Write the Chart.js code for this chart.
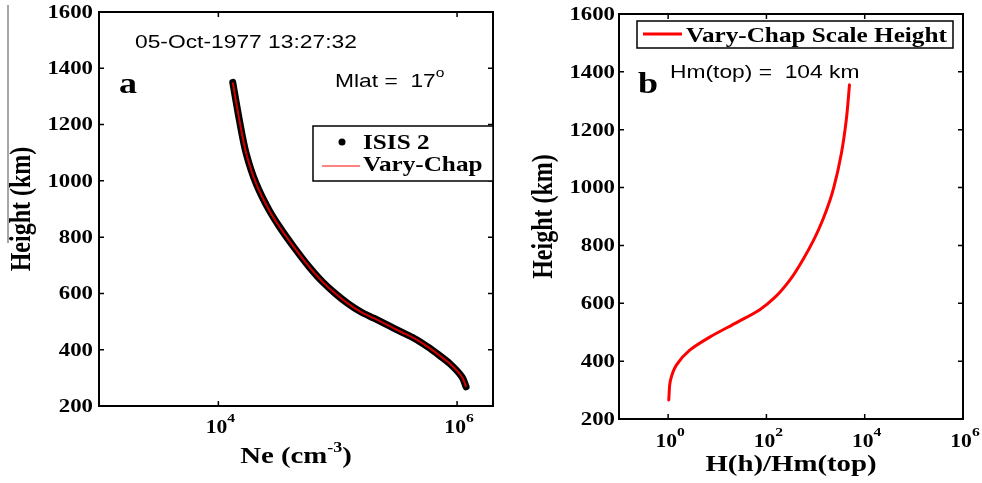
<!DOCTYPE html>
<html>
<head>
<meta charset="utf-8">
<script src="https://cdn.jsdelivr.net/npm/chart.js@4.4.1/dist/chart.umd.min.js"></script>
<style>
    html, body { margin: 0; padding: 0; background: #fff; }
    #wrap { position: relative; width: 982px; height: 483px; overflow: hidden; }
    .panel { position: absolute; top: 0; height: 483px; }
    #pa { left: 0; width: 500px; }
    #pb { left: 500px; width: 482px; }
</style>
</head>
<body>
<div id="wrap">
    <div class="panel" id="pa"><canvas id="chartA"></canvas></div>
    <div class="panel" id="pb"><canvas id="chartB"></canvas></div>
</div>
<script>
// --- panel a : ISIS 2 profile + Vary-Chap fit ---
const neHeights = [1350, 1216, 1098, 991, 895, 837, 766, 695, 641, 599, 564, 534, 511, 487, 463, 440, 410, 380, 351, 303, 268];
const neValues = [1.32e4, 1.50e4, 1.71e4, 2.07e4, 2.67e4, 3.25e4, 4.27e4, 5.75e4, 7.47e4, 9.59e4, 1.22e5, 1.57e5, 2.03e5, 2.63e5, 3.40e5, 4.39e5, 5.69e5, 7.11e5, 8.67e5, 1.10e6, 1.19e6];
const chapNe = neValues; // the fit lies on top of the measured points

// --- panel b : Vary-Chap scale height ratio ---
const ratioHeights = [1355, 1234, 1119, 1002, 957, 888, 819, 750, 680, 622, 577, 535, 483, 438, 387, 335, 266];
const ratioValues = [4898, 4217, 3357, 2365, 1972, 1396, 918, 549, 299, 152, 72, 25.8, 7.0, 2.75, 1.48, 1.12, 1.03];

// tick labels
const heightTicks = [200, 400, 600, 800, 1000, 1200, 1400, 1600];
const neTicks = [1e4, 1e6];
const neTickExp = ['4', '6'];
const ratioTicks = [1, 1e2, 1e4, 1e6];
const ratioTickExp = ['0', '2', '4', '6'];

const SX = 1.2; // the figure is a little wider than tall, so glyphs are stretched
const SERIF = '"Liberation Serif", "Times New Roman", serif';
const SANS = '"Liberation Sans", Arial, sans-serif';

function txt(ctx, s, x, y, font, align, base, rotated) {
    ctx.save();
    ctx.font = font;
    ctx.textAlign = align || 'left';
    ctx.textBaseline = base || 'alphabetic';
    ctx.translate(x, y);
    if (rotated) {
        ctx.rotate(-Math.PI / 2);
        ctx.scale(1, SX);
    } else {
        ctx.scale(SX, 1);
    }
    ctx.fillText(s, 0, 0);
    ctx.restore();
}

function textW(ctx, s, font) {
    ctx.save();
    ctx.font = font;
    const w = ctx.measureText(s).width * SX;
    ctx.restore();
    return w;
}

// a run of text pieces (for superscripts), left or centred on x
function runText(ctx, parts, x, y, align) {
    const total = parts.reduce((s, p) => s + textW(ctx, p.t, p.font), 0);
    let cx = align === 'center' ? x - total / 2 : x;
    parts.forEach(p => {
        txt(ctx, p.t, cx, y + (p.dy || 0), p.font);
        cx += textW(ctx, p.t, p.font);
    });
}

// MATLAB-like box, inward ticks, labels, notes and legend
const matlabAxes = {
    id: 'matlabAxes',
    afterDraw(chart, args, o) {
        const ctx = chart.ctx;
        const a = chart.chartArea;
        const xs = chart.scales.x;
        const ys = chart.scales.y;
        ctx.save();
        ctx.strokeStyle = '#000';
        ctx.fillStyle = '#000';

        ctx.lineWidth = 1.5;
        ctx.beginPath();
        o.yTicks.forEach(v => {
            const py = ys.getPixelForValue(v);
            ctx.moveTo(a.left, py); ctx.lineTo(a.left + 5, py);
            ctx.moveTo(a.right, py); ctx.lineTo(a.right - 5, py);
        });
        o.xTicks.forEach(v => {
            const px = xs.getPixelForValue(v);
            ctx.moveTo(px, a.bottom); ctx.lineTo(px, a.bottom - 5);
            ctx.moveTo(px, a.top); ctx.lineTo(px, a.top + 5);
        });
        ctx.stroke();

        ctx.lineWidth = 2;
        ctx.strokeRect(a.left, a.top, a.right - a.left, a.bottom - a.top);

        o.yTicks.forEach(v => {
            txt(ctx, String(v), a.left - o.yLabelGap, ys.getPixelForValue(v) + 1, 'bold 19px ' + SERIF, 'right', 'middle');
        });
        o.xTicks.forEach((v, i) => {
            runText(ctx, [
                { t: '10', font: 'bold 18px ' + SERIF },
                { t: o.xExp[i], font: 'bold 13px ' + SERIF, dy: -11 }
            ], xs.getPixelForValue(v) + 2, o.xTickBase, 'center');
        });

        runText(ctx, o.xTitle, (a.left + a.right) / 2, o.xTitleBase, 'center');
        txt(ctx, 'Height (km)', o.yTitleX, (a.top + a.bottom) / 2, 'bold 24px ' + SERIF, 'center', 'middle', true);

        o.notes.forEach(n => runText(ctx, n.parts, n.x, n.y, 'left'));

        // legend box
        const lg = o.legend;
        ctx.fillStyle = '#fff';
        ctx.fillRect(lg.box[0], lg.box[1], lg.box[2], lg.box[3]);
        ctx.lineWidth = 1.5;
        ctx.strokeStyle = '#000';
        ctx.strokeRect(lg.box[0], lg.box[1], lg.box[2], lg.box[3]);
        lg.items.forEach(it => {
            if (it.kind === 'dot') {
                ctx.fillStyle = it.color;
                ctx.beginPath();
                ctx.arc(it.x1, it.y, 3.5, 0, Math.PI * 2);
                ctx.fill();
            } else {
                ctx.strokeStyle = it.color;
                ctx.lineWidth = it.width;
                ctx.beginPath();
                ctx.moveTo(it.x1, it.y);
                ctx.lineTo(it.x2, it.y);
                ctx.stroke();
            }
            ctx.fillStyle = '#000';
            txt(ctx, it.text, it.tx, it.ty, 'bold 21px ' + SERIF);
        });

        if (o.rule) {
            ctx.strokeStyle = '#8a8a8a';
            ctx.lineWidth = 1.5;
            ctx.beginPath();
            ctx.moveTo(o.rule[0], o.rule[1]);
            ctx.lineTo(o.rule[0], o.rule[2]);
            ctx.stroke();
        }
        ctx.restore();
    }
};

function baseOptions(padding, xMin, xMax, deco) {
    return {
        indexAxis: 'y', // profiles are functions of height
        responsive: true,
        maintainAspectRatio: false,
        animation: false,
        layout: { padding: padding },
        scales: {
            x: { type: 'logarithmic', min: xMin, max: xMax, display: false },
            y: { type: 'linear', min: 200, max: 1600, display: false }
        },
        plugins: {
            legend: { display: false },
            tooltip: { enabled: false },
            matlabAxes: deco
        }
    };
}

new Chart(document.getElementById('chartA'), {
    type: 'line',
    data: {
        datasets: [
            {
                label: 'ISIS 2',
                data: neValues.map((v, i) => ({ x: v, y: neHeights[i] })),
                order: 2,
                borderColor: '#000',
                backgroundColor: '#000',
                borderWidth: 7,
                borderCapStyle: 'round',
                borderJoinStyle: 'round',
                pointRadius: 0,
                cubicInterpolationMode: 'monotone'
            },
            {
                label: 'Vary-Chap',
                data: chapNe.map((v, i) => ({ x: v, y: neHeights[i] })),
                order: 1,
                borderColor: '#d40000',
                borderWidth: 2,
                pointRadius: 0,
                cubicInterpolationMode: 'monotone'
            }
        ]
    },
    options: baseOptions({ left: 99, top: 12, right: 7, bottom: 77 }, 1e3, 2e6, {
        yTicks: heightTicks,
        xTicks: neTicks,
        xExp: neTickExp,
        yLabelGap: 6,
        xTickBase: 433,
        xTitleBase: 463,
        yTitleX: 23,
        xTitle: [
            { t: 'Ne (cm', font: 'bold 24px ' + SERIF },
            { t: '-3', font: 'bold 15px ' + SERIF, dy: -11 },
            { t: ')', font: 'bold 24px ' + SERIF }
        ],
        notes: [
            { x: 135, y: 48, parts: [{ t: '05-Oct-1977 13:27:32', font: '19px ' + SANS }] },
            { x: 335, y: 87, parts: [{ t: 'Mlat =  17', font: '19px ' + SANS }, { t: 'o', font: '13px ' + SANS, dy: -10 }] },
            { x: 119, y: 93, parts: [{ t: 'a', font: 'bold 30px ' + SERIF }] }
        ],
        legend: {
            box: [313, 126, 180, 55],
            items: [
                { kind: 'dot', color: '#000', x1: 342, y: 142, text: 'ISIS 2', tx: 363, ty: 149 },
                { kind: 'line', color: '#ff5a5a', width: 1.5, x1: 322, x2: 360, y: 166, text: 'Vary-Chap', tx: 363, ty: 171 }
            ]
        },
        rule: [8, 5, 243]
    }),
    plugins: [matlabAxes]
});

new Chart(document.getElementById('chartB'), {
    type: 'line',
    data: {
        datasets: [
            {
                label: 'Vary-Chap Scale Height',
                data: ratioValues.map((v, i) => ({ x: v, y: ratioHeights[i] })),
                borderColor: '#ff0000',
                borderWidth: 3,
                borderCapStyle: 'round',
                pointRadius: 0,
                cubicInterpolationMode: 'monotone'
            }
        ]
    },
    options: baseOptions({ left: 119, top: 14, right: 19, bottom: 64 }, 0.1, 1e6, {
        yTicks: heightTicks,
        xTicks: ratioTicks,
        xExp: ratioTickExp,
        yLabelGap: 4,
        xTickBase: 447,
        xTitleBase: 471,
        yTitleX: 45,
        xTitle: [{ t: 'H(h)/Hm(top)', font: 'bold 24px ' + SERIF }],
        notes: [
            { x: 170, y: 78, parts: [{ t: 'Hm(top) =  104 km', font: '19px ' + SANS }] },
            { x: 138, y: 93, parts: [{ t: 'b', font: 'bold 30px ' + SERIF }] }
        ],
        legend: {
            box: [137, 21, 316, 27],
            items: [
                { kind: 'line', color: '#ff0000', width: 3, x1: 143, x2: 182, y: 34, text: 'Vary-Chap Scale Height', tx: 186, ty: 42 }
            ]
        }
    }),
    plugins: [matlabAxes]
});
</script>
</body>
</html>
